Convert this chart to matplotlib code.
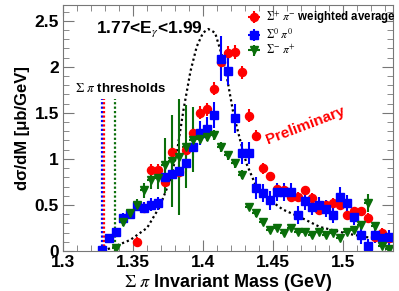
import matplotlib
matplotlib.use("Agg")
import matplotlib.pyplot as plt
from matplotlib.ticker import MultipleLocator, FormatStrFormatter

plt.rcParams['font.family'] = ['Liberation Sans', 'DejaVu Sans']
plt.rcParams['mathtext.fontset'] = 'stix'

# bin centres (GeV)
mass = [1.3275, 1.3325, 1.3375, 1.3425, 1.3475, 1.3525, 1.3575, 1.3625, 1.3675, 1.3725,
        1.3775, 1.3825, 1.3875, 1.3925, 1.3975, 1.4025, 1.4075, 1.4125, 1.4175, 1.4225,
        1.4275, 1.4325, 1.4375, 1.4425, 1.4475, 1.4525, 1.4575, 1.4625, 1.4675, 1.4725,
        1.4775, 1.4825, 1.4875, 1.4925, 1.4975, 1.5025, 1.5075, 1.5125, 1.5175, 1.5225,
        1.5275, 1.5325]

# Sigma0 pi0
s0_y = [0.01, 0.14, 0.21, 0.36, 0.40, 0.49, 0.47, 0.50, 0.52, 0.80,
        0.84, 0.87, 0.96, 1.13, 1.28, 1.33, 1.48, 2.09, 1.95, 1.44,
        1.06, 1.06, 0.68, 0.63, 0.55, 0.64, 0.64, 0.64, 0.39, 0.54,
        0.48, 0.50, 0.46, 0.39, 0.59, 0.52, 0.37, 0.17, 0.05, 0.17,
        0.14, 0.15]
s0_e = [0.03, 0.04, 0.04, 0.05, 0.05, 0.06, 0.06, 0.07, 0.07, 0.08,
        0.09, 0.10, 0.10, 0.12, 0.13, 0.13, 0.14, 0.24, 0.15, 0.16,
        0.12, 0.12, 0.12, 0.10, 0.10, 0.10, 0.10, 0.10, 0.10, 0.10,
        0.09, 0.09, 0.09, 0.09, 0.10, 0.09, 0.09, 0.09, 0.08, 0.08,
        0.08, 0.08]

# Sigma+ pi- weighted average
sp_x = mass[5:]
sp_y = [0.10, 0.47, 0.88, 0.88, 0.75, 1.08, 0.86, 1.10, 1.28, 1.50,
        1.54, 1.76, 2.05, 2.15, 2.16, 1.94, 1.47, 1.25, 0.90, 0.81,
        0.67, 0.66, 0.59, 0.59, 0.66, 0.58, 0.45, 0.50, 0.52, 0.50,
        0.39, 0.43, 0.43, 0.36, 0.15, 0.20, 0.14]
sp_e = [0.05, 0.06, 0.06, 0.06, 0.06, 0.07, 0.07, 0.07, 0.07, 0.07,
        0.07, 0.07, 0.08, 0.08, 0.08, 0.07, 0.07, 0.06, 0.06, 0.05,
        0.05, 0.05, 0.05, 0.05, 0.05, 0.05, 0.05, 0.05, 0.05, 0.05,
        0.05, 0.05, 0.05, 0.05, 0.05, 0.05, 0.05]

# Sigma- pi+
sm_x = mass[2:]
sm_y = [0.03, 0.32, 0.41, 0.50, 0.66, 0.77, 0.79, 0.93, 0.98, 1.02,
        1.13, 1.21, 1.22, 1.24, 1.26, 1.13, 1.04, 0.95, 0.83, 0.48,
        0.41, 0.32, 0.23, 0.25, 0.19, 0.25, 0.21, 0.21, 0.17, 0.21,
        0.17, 0.19, 0.14, 0.21, 0.23, 0.28, 0.52, 0.27, 0.05, 0.02]
sm_e = [0.03, 0.05, 0.05, 0.06, 0.08, 0.10, 0.12, 0.30, 0.50, 0.63,
        0.45, 0.35, 0.06, 0.05, 0.05, 0.05, 0.05, 0.05, 0.05, 0.04,
        0.04, 0.04, 0.03, 0.03, 0.03, 0.03, 0.03, 0.03, 0.03, 0.03,
        0.03, 0.03, 0.03, 0.03, 0.03, 0.04, 0.10, 0.04, 0.03, 0.03]

# dotted model curve
curve_x = [1.3286, 1.337, 1.348, 1.360, 1.369, 1.376, 1.381, 1.386, 1.391, 1.3955,
           1.400, 1.4038, 1.4086, 1.413, 1.417, 1.4216, 1.4264, 1.431, 1.438, 1.448,
           1.457, 1.469, 1.4836, 1.5026, 1.517, 1.5336]
curve_y = [0.0, 0.05, 0.12, 0.25, 0.48, 0.75, 1.04, 1.53, 1.95, 2.22,
           2.37, 2.41, 2.37, 2.15, 1.89, 1.50, 1.21, 0.95, 0.70, 0.55,
           0.45, 0.37, 0.26, 0.19, 0.15, 0.12]

# thresholds
thr_x = [1.3276, 1.3289, 1.3370]
thr_col = ['blue', 'red', '#0a6e0a']

fig = plt.figure(figsize=(3.99, 2.91), dpi=100)
ax = fig.add_axes([0.158, 0.1375, 0.827, 0.845])

for x, c in zip(thr_x, thr_col):
    ax.plot([x, x], [0, 1.65], color=c, ls=(0, (1, 1)), lw=1.6)

ax.plot(curve_x, curve_y, color='black', ls=(0, (1, 1.3)), lw=1.6)

ax.errorbar(sp_x, sp_y, yerr=sp_e, xerr=0.0025, fmt='o', color='red', ms=5.8,
            elinewidth=1.5, capsize=0, label=r'$\Sigma^{+}\ \pi^{-}$ weighted average')
ax.errorbar(mass, s0_y, yerr=s0_e, xerr=0.0025, fmt='s', color='blue', ms=5.8,
            elinewidth=1.5, capsize=0, label=r'$\Sigma^{0}\ \pi^{0}$')
ax.errorbar(sm_x, sm_y, yerr=sm_e, xerr=0.0025, fmt='v', color='#0a6e0a', ms=5.8,
            elinewidth=1.5, capsize=0, label=r'$\Sigma^{-}\ \pi^{+}$')

ax.set_xlim(1.3, 1.5357)
ax.set_ylim(0, 2.67)
ax.xaxis.set_major_locator(MultipleLocator(0.05))
ax.xaxis.set_minor_locator(MultipleLocator(0.01))
ax.yaxis.set_major_locator(MultipleLocator(0.5))
ax.yaxis.set_minor_locator(MultipleLocator(0.1))
ax.xaxis.set_major_formatter(FormatStrFormatter('%g'))
ax.yaxis.set_major_formatter(FormatStrFormatter('%g'))
ax.tick_params(which='both', direction='in', top=True, right=True, color='#777777')
ax.tick_params(which='major', length=8, labelsize=12.5, pad=3)
ax.tick_params(which='minor', length=4)
for lab in ax.get_xticklabels() + ax.get_yticklabels():
    lab.set_fontweight('bold')
for s in ax.spines.values():
    s.set_color('#777777')

ax.set_xlabel(r'$\Sigma\ \pi$ Invariant Mass (GeV)', fontsize=13, fontweight='bold', labelpad=1)
ax.set_ylabel('dσ/dM [μb/GeV]', fontsize=12, fontweight='bold', labelpad=3)

leg = ax.legend(loc='upper left', bbox_to_anchor=(0.53, 1.015), frameon=False,
                prop={'size': 8.3, 'weight': 'bold'}, handlelength=1.4, handletextpad=0.35,
                labelspacing=0.15, borderpad=0.2)

ax.text(0.1, 0.9, r'1.77<E$_{\gamma}$<1.99', transform=ax.transAxes, fontsize=12.5,
        fontweight='bold', va='center')
ax.text(0.035, 0.66, r'$\Sigma\ \pi$ thresholds', transform=ax.transAxes, fontsize=9.5,
        fontweight='bold', va='center')
ax.text(0.735, 0.51, 'Preliminary', transform=ax.transAxes, fontsize=11, color='red',
        fontweight='bold', rotation=21, ha='center', va='center')

fig.savefig('out.png', dpi=100)
